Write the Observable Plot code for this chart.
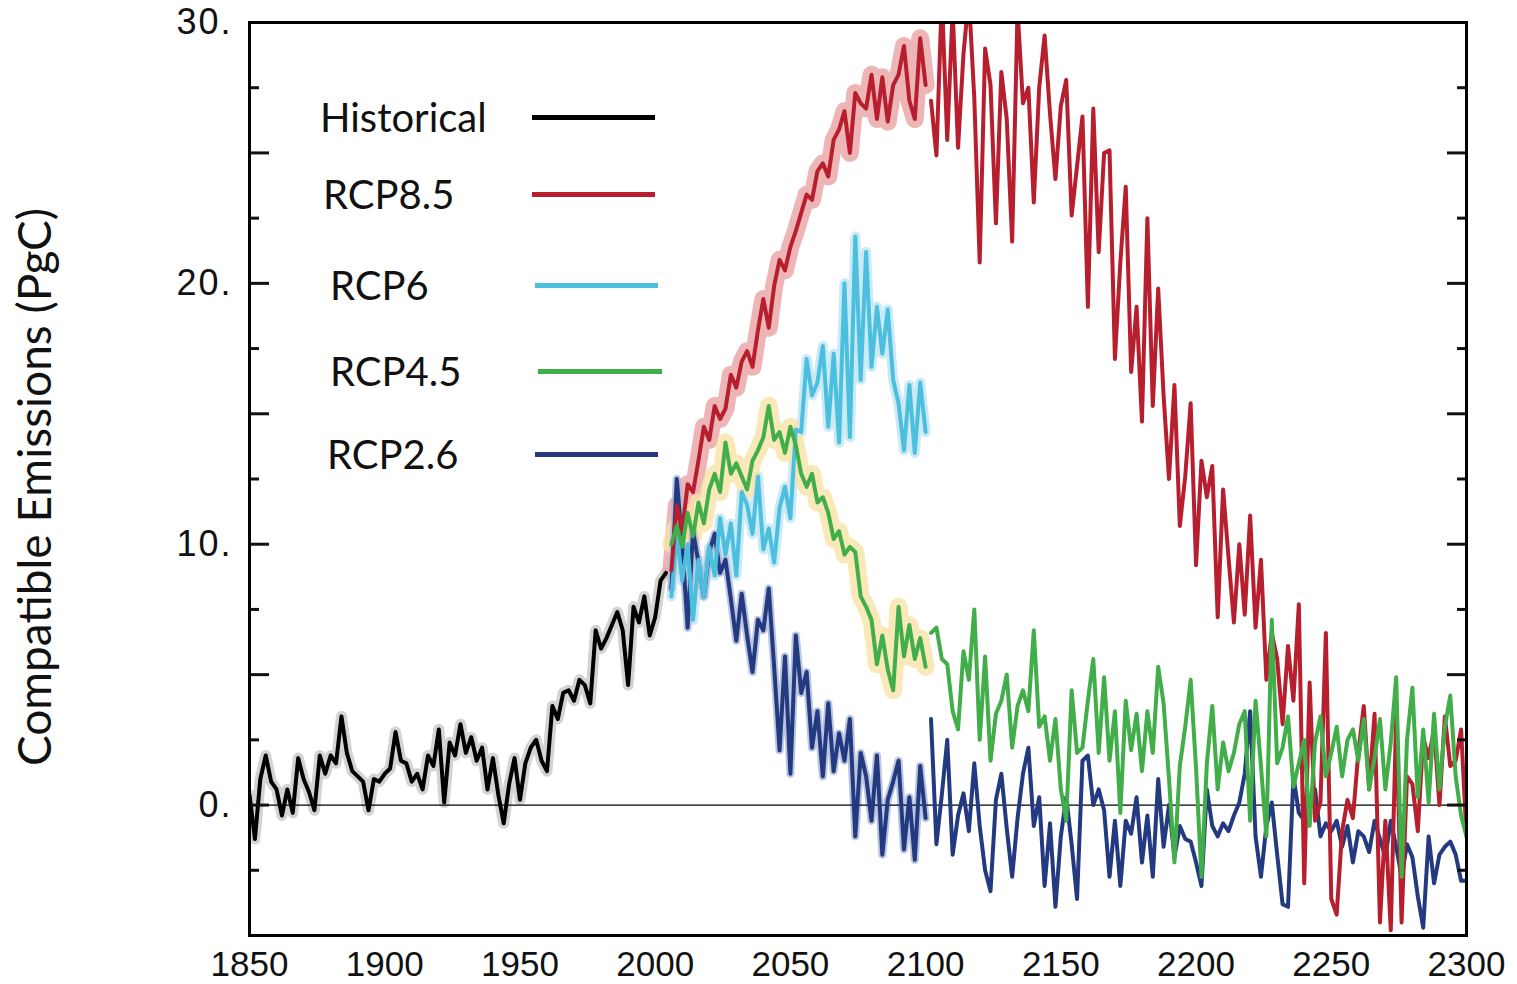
<!DOCTYPE html>
<html><head><meta charset="utf-8">
<script src="https://cdn.jsdelivr.net/npm/d3@7"></script>
<script src="https://cdn.jsdelivr.net/npm/@observablehq/plot@0.6"></script>
<style>
html,body{margin:0;padding:0;background:#fff;}
#wrap{position:relative;width:1517px;height:984px;overflow:hidden;}
.lg-label{position:absolute;font-family:Lato,"Open Sans",sans-serif;font-size:40px;line-height:40px;color:#111;white-space:nowrap;}
.lg-line{position:absolute;height:5px;}
g[aria-label="y-axis tick label"] text{letter-spacing:2px;}
</style></head><body><div id="wrap"></div>
<script>
// ---- data (PgC / yr, 2-year sampling) ----
const histStartYear = 1850;
const rcpStartYear = 2006;
const yearStep = 2;

const historical = [
  0.4, -1.3, 1.0, 1.9, 0.9, 0.6, -0.4, 0.6, -0.3, 1.8,
  1.0, 0.5, -0.2, 1.9, 1.2, 1.9, 1.6, 3.4, 2.0, 1.3,
  1.1, 0.9, -0.2, 1.0, 0.9, 1.2, 1.4, 2.8, 1.7, 1.6,
  0.9, 1.2, 0.6, 1.9, 1.5, 2.9, 0.1, 2.4, 1.9, 3.1,
  2.0, 2.6, 1.7, 2.2, 0.6, 1.8, 0.4, -0.7, 0.8, 1.8,
  0.2, 1.6, 2.2, 2.5, 1.7, 1.3, 3.8, 3.3, 4.3, 4.4,
  4.0, 4.8, 4.6, 3.9, 6.7, 6.0, 6.4, 6.9, 7.4, 6.7,
  4.6, 7.6, 7.0, 8.0, 6.5, 7.2, 8.6, 8.9
];

const rcp85 = [
  9.0, 11.5, 10.5, 12.3, 12.0, 13.2, 14.5, 14.0, 15.3, 14.8,
  15.2, 16.5, 16.0, 17.0, 17.4, 16.8, 18.2, 19.4, 18.3, 19.9,
  20.9, 20.5, 21.4, 22.0, 22.7, 23.4, 23.2, 24.3, 24.6, 24.1,
  25.5, 25.9, 26.6, 25.0, 27.3, 26.9, 26.7, 28.0, 26.3, 27.9,
  26.2, 27.6, 28.0, 29.1, 27.0, 26.3, 29.4, 27.6, 27.0, 24.9,
  31.0, 25.5, 30.5, 25.2, 28.8, 31.0, 27.1, 20.8, 29.0, 27.6,
  22.3, 28.1, 26.3, 21.6, 30.5, 26.9, 27.5, 23.1, 27.5, 29.5,
  26.5, 24.0, 26.8, 27.8, 22.6, 24.5, 26.4, 19.1, 26.7, 21.2,
  25.0, 25.1, 17.1, 20.8, 23.7, 16.6, 19.1, 14.7, 22.5, 15.3,
  19.8, 15.7, 12.5, 16.1, 10.7, 12.6, 15.4, 9.2, 13.2, 11.8,
  13.0, 7.2, 12.1, 9.5, 7.0, 10.0, 7.3, 11.1, 6.8, 9.4,
  4.8, 6.6, 5.6, 3.1, 6.1, 4.0, 7.7, -3.0, 4.7, -0.6,
  0.1, 6.6, -3.6, -4.2, -1.0, 0.2, -0.5, 2.0, 3.8, 0.6,
  3.5, -4.5, -0.6, -4.8, 3.4, -4.5, 1.1, 0.8, -1.0, 2.6,
  1.8, 2.9, 0.0, 3.4, 1.5, 1.7, 2.9, -1.2
];

const rcp6 = [
  8.0, 10.4, 8.6, 10.0, 7.1, 9.4, 8.0, 9.9, 8.8, 11.0,
  9.6, 10.8, 8.8, 12.0, 11.5, 10.4, 12.6, 9.8, 10.6, 9.3,
  11.4, 12.2, 11.0, 14.4, 14.3, 17.1, 15.7, 16.2, 17.6, 14.5,
  17.3, 13.9, 20.0, 14.1, 21.8, 16.3, 21.2, 16.8, 19.1, 17.3,
  19.0, 16.3, 15.4, 13.6, 16.1, 13.5, 16.2, 14.3
];

const rcp45 = [
  10.0, 10.7, 9.9, 11.2, 10.3, 11.6, 10.8, 12.1, 12.7, 12.0,
  13.9, 12.7, 13.1, 12.6, 12.1, 13.2, 13.6, 14.1, 15.3, 14.0,
  14.3, 13.5, 14.5, 13.8, 12.7, 12.2, 12.7, 11.6, 11.8, 11.2,
  10.2, 10.5, 9.6, 9.9, 9.7, 8.0, 7.6, 7.1, 5.4, 6.5,
  5.2, 4.4, 7.6, 5.7, 6.9, 5.6, 6.4, 5.3, 6.6, 6.8,
  5.6, 5.4, 3.6, 2.9, 5.9, 4.8, 7.5, 2.5, 5.7, 1.7,
  3.5, 4.0, 5.0, 2.2, 3.8, 4.4, 3.6, 6.7, 3.0, 3.4,
  1.7, 3.3, 0.6, -0.6, 4.4, 2.0, 2.2, 4.0, 5.6, 2.0,
  4.9, 1.7, 3.6, -0.3, 4.0, 2.1, 3.5, 1.3, 3.6, 2.0,
  5.3, 3.9, 1.0, -2.2, 1.5, 3.0, 4.8, 1.4, -2.75, 1.6,
  3.8, 0.6, 2.4, 1.3, 2.0, 3.1, 3.6, -0.6, 4.0, 1.5,
  -1.2, 7.1, 1.6, 2.2, 3.4, 0.7, 1.6, 2.5, -0.8, 2.4,
  3.4, 1.1, 2.0, 3.0, 1.1, 2.5, 2.9, 1.7, 3.3, 0.6,
  1.8, 3.3, 0.6, 2.4, 4.9, -2.75, 2.5, 4.5, 0.3, 2.9,
  0.1, 3.5, 0.6, 3.0, 4.2, 1.1, -0.4, -1.2
];

const rcp26 = [
  8.3, 12.5, 10.0, 6.8, 10.5, 9.3, 8.0, 9.7, 10.4, 8.9,
  9.4, 7.9, 6.3, 8.1, 6.5, 5.1, 7.1, 6.7, 8.3, 5.3,
  2.1, 5.7, 1.2, 6.5, 4.3, 5.1, 2.2, 3.6, 1.1, 3.9,
  1.3, 2.75, 1.7, 3.3, -1.2, 2.0, 1.1, -0.6, 1.9, -1.9,
  0.2, 0.9, 1.7, -1.7, 0.3, -2.1, 1.5, -0.5, 3.3, -1.5,
  0.4, 2.5, -1.9, -0.4, 0.45, -1.0, 1.6, -0.8, -2.5, -3.3,
  0.2, 1.2, -0.9, -2.75, -0.5, 1.2, 2.2, -0.8, 0.3, -3.1,
  -0.7, -3.9, -1.2, 0.3, -1.5, -3.6, 1.7, 1.9, 0.0, 0.6,
  -0.2, -2.75, -0.6, -3.1, -0.6, -1.1, 0.3, -2.2, -0.4, -2.75,
  1.0, -1.6, 0.0, -2.0, -0.8, -1.3, -1.4, -2.2, -3.1, 0.6,
  -0.8, -1.2, -0.7, -1.0, -0.4, 0.1, 1.2, 3.6, -1.2, -2.75,
  -0.8, 0.1, -1.9, -3.8, -3.9, 1.1, -0.3, -0.6, -0.2, 0.6,
  -1.2, -0.7, -1.0, -0.6, -1.6, -0.8, -2.2, -1.0, -1.2, -1.8,
  -0.6, -1.3, -2.0, -0.6, -1.6, -2.75, -1.5, -2.0, -3.5, -4.7,
  -1.2, -3.0, -1.9, -1.6, -1.4, -1.9, -2.9, -2.9
];

const seriesNames = ["Historical", "RCP8.5", "RCP6", "RCP4.5", "RCP2.6"];
const seriesColors = ["#000000", "#b81f2e", "#4cbfdf", "#41ae4a", "#233a80"];
const bandColors = ["#c8c8c4", "#eaa3a4", "#bde5f2", "#f9e3a6", "#aab6d8"];

const xTickLabels = [1850, 1900, 1950, 2000, 2050, 2100, 2150, 2200, 2250, 2300];
const yTickLabels = [0, 10, 20, 30];
const yMajorTicks = [0, 5, 10, 15, 20, 25];
const yMinorTicks = [-2.5, 2.5, 7.5, 12.5, 17.5, 22.5, 27.5];
const yTitle = "Compatible Emissions (PgC)";

// ---- build table ----
function toRows(values, start, name) {
  return values.map((v, i) => {
    const year = start + i * yearStep;
    return {year, value: v, series: name, seg: year <= 2100 ? "a" : "b"};
  });
}
const rows = {
  "Historical": toRows(historical, histStartYear, "Historical"),
  "RCP8.5": toRows(rcp85, rcpStartYear, "RCP8.5"),
  "RCP6": toRows(rcp6, rcpStartYear, "RCP6"),
  "RCP4.5": toRows(rcp45, rcpStartYear, "RCP4.5"),
  "RCP2.6": toRows(rcp26, rcpStartYear, "RCP2.6")
};
const colorOf = Object.fromEntries(seriesNames.map((n, i) => [n, seriesColors[i]]));
const bandOf = Object.fromEntries(seriesNames.map((n, i) => [n, bandColors[i]]));

const bandWidth = {"Historical": 11, "RCP8.5": 18, "RCP6": 10, "RCP4.5": 18, "RCP2.6": 8};
const bandMarks = seriesNames.map(n =>
  Plot.line(rows[n].filter(d => d.year <= 2100), {
    x: "year", y: "value", stroke: bandOf[n], strokeWidth: bandWidth[n],
    strokeOpacity: 0.8, strokeLinejoin: "round", clip: true
  })
);
const drawOrder = ["Historical", "RCP2.6", "RCP6", "RCP8.5", "RCP4.5"];
const lineMarks = drawOrder.map(n =>
  Plot.line(rows[n], {
    x: "year", y: "value", z: "seg", stroke: colorOf[n], strokeWidth: 4,
    strokeLinejoin: "round", clip: true
  })
);

const FONT = "'Liberation Sans', Arial, Helvetica, sans-serif";

const chart = Plot.plot({
  width: 1517,
  height: 984,
  marginLeft: 249,
  marginRight: 51,
  marginTop: 22,
  marginBottom: 49,
  x: {domain: [1850, 2300]},
  y: {domain: [-5, 30]},
  style: {fontFamily: FONT, fontSize: "35px", background: "white", color: "#111"},
  marks: [
    ...bandMarks,
    Plot.ruleY([0], {stroke: "#000", strokeWidth: 1.2}),
    ...lineMarks,
    Plot.axisY(yMajorTicks, {anchor: "left", tickSize: -20, strokeWidth: 3, tickFormat: () => "", label: null}),
    Plot.axisY(yMinorTicks, {anchor: "left", tickSize: -10, strokeWidth: 3, tickFormat: () => "", label: null}),
    Plot.axisY(yMajorTicks, {anchor: "right", tickSize: -20, strokeWidth: 3, tickFormat: () => "", label: null}),
    Plot.axisY(yMinorTicks, {anchor: "right", tickSize: -10, strokeWidth: 3, tickFormat: () => "", label: null}),
    Plot.axisY(yTickLabels, {anchor: "left", tickSize: 0, tickPadding: 17, fontSize: 36, tickFormat: d => d + ".", label: null}),
    Plot.axisX(xTickLabels, {anchor: "bottom", tickSize: 0, tickPadding: 16, fontSize: 35, tickFormat: d => String(d), label: null}),
    Plot.frame({stroke: "#000", strokeWidth: 3}),
    Plot.text([yTitle], {
      text: d => d, frameAnchor: "left", dx: -213, dy: 8, rotate: -90,
      textAnchor: "middle", fontFamily: "Lato, 'Open Sans', sans-serif", fontSize: 46, fill: "#111"
    })
  ]
});

const wrap = document.getElementById("wrap");
wrap.appendChild(chart);

// ---- legend (inside plot, top-left) ----
const legendLayout = [
  {left: 320, cy: 117, x1: 532, x2: 655},
  {left: 323, cy: 194, x1: 532, x2: 655},
  {left: 330, cy: 285, x1: 535, x2: 658},
  {left: 330, cy: 371, x1: 538, x2: 662},
  {left: 327, cy: 454, x1: 535, x2: 658}
];
seriesNames.forEach((name, i) => {
  const L = legendLayout[i];
  const lab = document.createElement("div");
  lab.className = "lg-label";
  lab.textContent = name;
  lab.style.left = L.left + "px";
  lab.style.top = (L.cy - 20) + "px";
  wrap.appendChild(lab);
  const ln = document.createElement("div");
  ln.className = "lg-line";
  ln.style.left = L.x1 + "px";
  ln.style.width = (L.x2 - L.x1) + "px";
  ln.style.top = (L.cy - 2.5) + "px";
  ln.style.background = seriesColors[i];
  wrap.appendChild(ln);
});
</script></body></html>
